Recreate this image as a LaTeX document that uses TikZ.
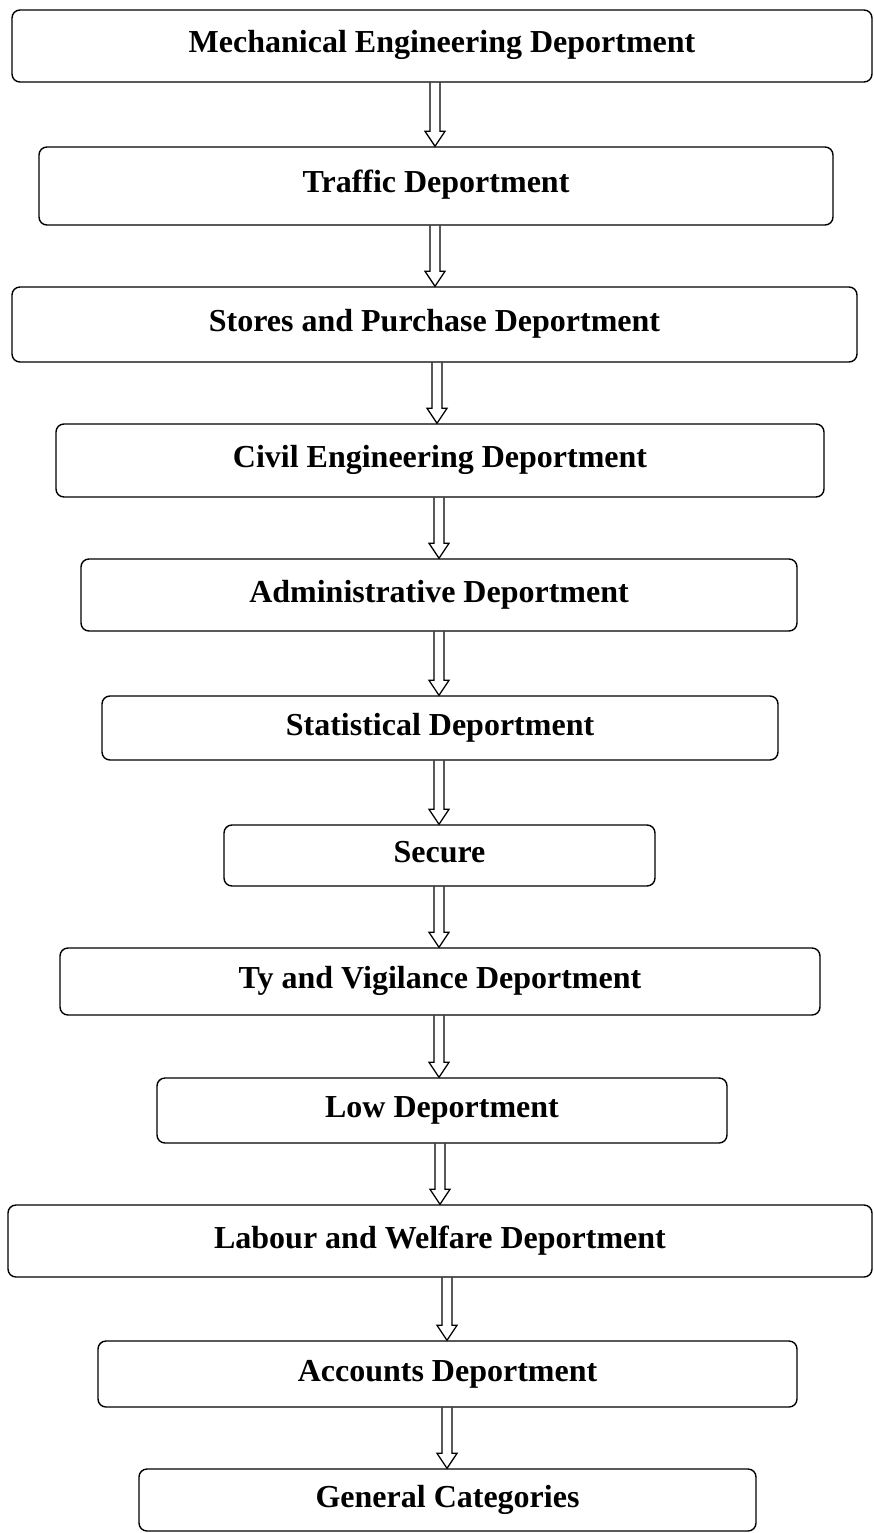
\documentclass[tikz,border=0pt]{standalone}
\usepackage{fontspec}
\setmainfont{Liberation Serif}
\usetikzlibrary{calc}

\begin{document}
\begin{tikzpicture}[x=1pt, y=-1pt, dept/.style={rectangle, draw,
    rounded corners=8pt, line width=1.4pt, text height=22pt, text depth=8pt,
    font=\bfseries\fontsize{32}{36}\selectfont}, hollow/.style={line width=1.3pt}]
    \useasboundingbox (0,0) rectangle (874,1533);
    \node[dept,minimum width=860pt,minimum height=72pt] (mech) at (442,46) {Mechanical Engineering Deportment};
    \node[dept,minimum width=794pt,minimum height=78pt] (traffic) at (436,186) {Traffic Deportment};
    \node[dept,minimum width=845pt,minimum height=75pt] (stores) at (434.5,324.5) {Stores and Purchase Deportment};
    \node[dept,minimum width=768pt,minimum height=73pt] (civil) at (440,460.5) {Civil Engineering Deportment};
    \node[dept,minimum width=716pt,minimum height=72pt] (admin) at (439,595) {Administrative Deportment};
    \node[dept,minimum width=676pt,minimum height=64pt] (stat) at (440,728) {Statistical Deportment};
    \node[dept,minimum width=431pt,minimum height=61pt] (secure) at (439.5,855.5) {Secure};
    \node[dept,minimum width=760pt,minimum height=67pt] (vigil) at (440,981.5) {Ty and Vigilance Deportment};
    \node[dept,minimum width=570pt,minimum height=65pt] (low) at (442,1110.5) {Low Deportment};
    \node[dept,minimum width=864pt,minimum height=72pt] (labour) at (440,1241) {Labour and Welfare Deportment};
    \node[dept,minimum width=699pt,minimum height=66pt] (accounts) at (447.5,1374) {Accounts Deportment};
    \node[dept,minimum width=617pt,minimum height=62pt] (general) at (447.5,1500) {General Categories};
    \draw[hollow] let \p1 = ([xshift=-7]mech.south), \p2 = (traffic.north) in (\x1-5pt,\y1) -- (\x1-5pt,\y2+15pt) -- (\x1-10pt,\y2+15pt) -- (\x1,\y2) -- (\x1+10pt,\y2+15pt) -- (\x1+5pt,\y2+15pt) -- (\x1+5pt,\y1);
    \draw[hollow] let \p1 = ([xshift=-1]traffic.south), \p2 = (stores.north) in (\x1-5pt,\y1) -- (\x1-5pt,\y2+15pt) -- (\x1-10pt,\y2+15pt) -- (\x1,\y2) -- (\x1+10pt,\y2+15pt) -- (\x1+5pt,\y2+15pt) -- (\x1+5pt,\y1);
    \draw[hollow] let \p1 = ([xshift=2.5]stores.south), \p2 = (civil.north) in (\x1-5pt,\y1) -- (\x1-5pt,\y2+15pt) -- (\x1-10pt,\y2+15pt) -- (\x1,\y2) -- (\x1+10pt,\y2+15pt) -- (\x1+5pt,\y2+15pt) -- (\x1+5pt,\y1);
    \draw[hollow] let \p1 = ([xshift=-1]civil.south), \p2 = (admin.north) in (\x1-5pt,\y1) -- (\x1-5pt,\y2+15pt) -- (\x1-10pt,\y2+15pt) -- (\x1,\y2) -- (\x1+10pt,\y2+15pt) -- (\x1+5pt,\y2+15pt) -- (\x1+5pt,\y1);
    \draw[hollow] let \p1 = (admin.south), \p2 = (stat.north) in (\x1-5pt,\y1) -- (\x1-5pt,\y2+15pt) -- (\x1-10pt,\y2+15pt) -- (\x1,\y2) -- (\x1+10pt,\y2+15pt) -- (\x1+5pt,\y2+15pt) -- (\x1+5pt,\y1);
    \draw[hollow] let \p1 = ([xshift=-1]stat.south), \p2 = (secure.north) in (\x1-5pt,\y1) -- (\x1-5pt,\y2+15pt) -- (\x1-10pt,\y2+15pt) -- (\x1,\y2) -- (\x1+10pt,\y2+15pt) -- (\x1+5pt,\y2+15pt) -- (\x1+5pt,\y1);
    \draw[hollow] let \p1 = ([xshift=-0.5]secure.south), \p2 = (vigil.north) in (\x1-5pt,\y1) -- (\x1-5pt,\y2+15pt) -- (\x1-10pt,\y2+15pt) -- (\x1,\y2) -- (\x1+10pt,\y2+15pt) -- (\x1+5pt,\y2+15pt) -- (\x1+5pt,\y1);
    \draw[hollow] let \p1 = ([xshift=-1]vigil.south), \p2 = (low.north) in (\x1-5pt,\y1) -- (\x1-5pt,\y2+15pt) -- (\x1-10pt,\y2+15pt) -- (\x1,\y2) -- (\x1+10pt,\y2+15pt) -- (\x1+5pt,\y2+15pt) -- (\x1+5pt,\y1);
    \draw[hollow] let \p1 = ([xshift=-2]low.south), \p2 = (labour.north) in (\x1-5pt,\y1) -- (\x1-5pt,\y2+15pt) -- (\x1-10pt,\y2+15pt) -- (\x1,\y2) -- (\x1+10pt,\y2+15pt) -- (\x1+5pt,\y2+15pt) -- (\x1+5pt,\y1);
    \draw[hollow] let \p1 = ([xshift=7]labour.south), \p2 = (accounts.north) in (\x1-5pt,\y1) -- (\x1-5pt,\y2+15pt) -- (\x1-10pt,\y2+15pt) -- (\x1,\y2) -- (\x1+10pt,\y2+15pt) -- (\x1+5pt,\y2+15pt) -- (\x1+5pt,\y1);
    \draw[hollow] let \p1 = ([xshift=-0.5]accounts.south), \p2 = (general.north) in (\x1-5pt,\y1) -- (\x1-5pt,\y2+15pt) -- (\x1-10pt,\y2+15pt) -- (\x1,\y2) -- (\x1+10pt,\y2+15pt) -- (\x1+5pt,\y2+15pt) -- (\x1+5pt,\y1);
\end{tikzpicture}
\end{document}
